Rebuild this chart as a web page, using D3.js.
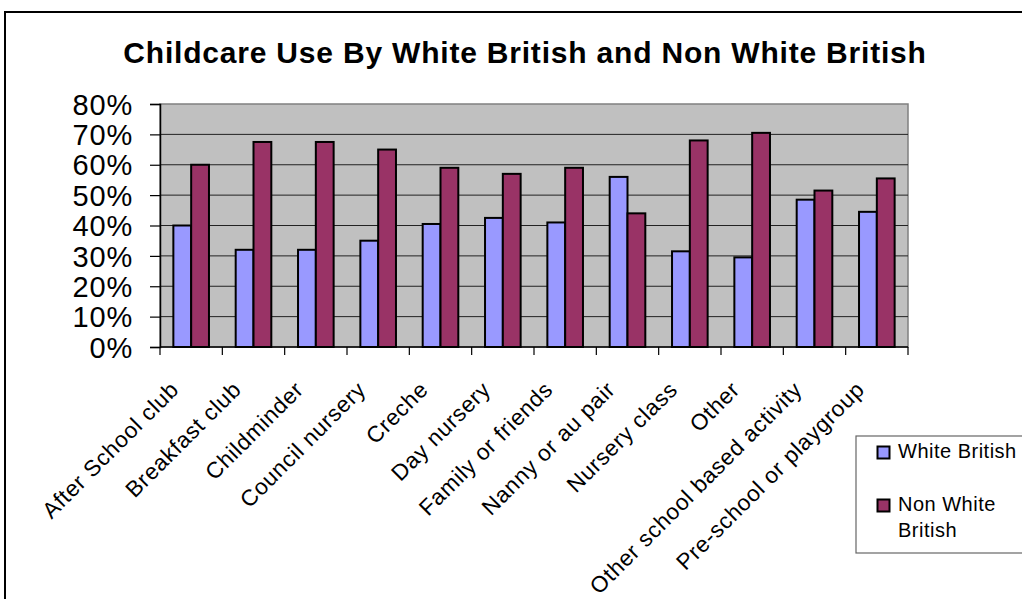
<!DOCTYPE html>
<html>
<head>
<meta charset="utf-8">
<script src="https://cdn.jsdelivr.net/npm/d3@7"></script>
<style>
  html, body { margin: 0; padding: 0; background: #fff; }
  svg { display: block; font-family: Arial, "Liberation Sans", sans-serif; }
</style>
</head>
<body>
<svg id="chart" width="1022" height="599"></svg>
<script>
// Share of each childcare type used by White British and Non White British families
const categories = [
  "After School club", "Breakfast club", "Childminder", "Council nursery",
  "Creche", "Day nursery", "Family or friends", "Nanny or au pair",
  "Nursery class", "Other", "Other school based activity", "Pre-school or  playgroup"
];
const seriesNames = ["White British", "Non White British"];
const whiteBritish = [40, 32, 32, 35, 40.5, 42.5, 41, 56, 31.5, 29.5, 48.5, 44.5];
const nonWhiteBritish = [60, 67.5, 67.5, 65, 59, 57, 59, 44, 68, 70.5, 51.5, 55.5];
const yTicks = [0, 10, 20, 30, 40, 50, 60, 70, 80];

const colors = { "White British": "#9999FF", "Non White British": "#993366" };

const svg = d3.select("#chart");
const plot = { left: 160, right: 908, top: 104, bottom: 347 };

// Outer chart frame
svg.append("rect")
  .attr("x", 5).attr("y", 12).attr("width", 1040).attr("height", 620)
  .attr("fill", "#fff").attr("stroke", "#000").attr("stroke-width", 2);

// Title
svg.append("text")
  .attr("x", 525).attr("y", 63)
  .attr("text-anchor", "middle")
  .attr("font-size", 30).attr("font-weight", "bold")
  .attr("letter-spacing", 0.8)
  .text("Childcare Use By White British and Non White British");

const x = d3.scaleBand().domain(categories).range([plot.left, plot.right]).padding(0);
const xInner = d3.scaleBand().domain(seriesNames).range([0, x.bandwidth()])
  .paddingInner(0).paddingOuter(0.75);
const y = d3.scaleLinear().domain([0, 80]).range([plot.bottom, plot.top]);

// Plot background
svg.append("rect")
  .attr("x", plot.left).attr("y", plot.top)
  .attr("width", plot.right - plot.left).attr("height", plot.bottom - plot.top)
  .attr("fill", "#C0C0C0").attr("stroke", "#808080").attr("stroke-width", 1.5);

// Horizontal gridlines
svg.append("g")
  .selectAll("line")
  .data(yTicks.filter(t => t > 0 && t < 80))
  .join("line")
  .attr("x1", plot.left).attr("x2", plot.right)
  .attr("y1", d => y(d)).attr("y2", d => y(d))
  .attr("stroke", "#222").attr("stroke-width", 1);

// Bars
const rows = categories.map((c, i) => ({
  category: c,
  values: [
    { series: seriesNames[0], value: whiteBritish[i] },
    { series: seriesNames[1], value: nonWhiteBritish[i] }
  ]
}));

svg.append("g")
  .selectAll("g")
  .data(rows)
  .join("g")
  .attr("transform", d => `translate(${x(d.category)},0)`)
  .selectAll("rect")
  .data(d => d.values)
  .join("rect")
  .attr("x", d => xInner(d.series))
  .attr("y", d => y(d.value))
  .attr("width", xInner.bandwidth())
  .attr("height", d => y(0) - y(d.value))
  .attr("fill", d => colors[d.series])
  .attr("stroke", "#000").attr("stroke-width", 2);

// Y axis
const yAxis = svg.append("g")
  .attr("transform", `translate(${plot.left},0)`)
  .call(d3.axisLeft(y).tickValues(yTicks).tickSize(10).tickFormat(d => d + "%"));
yAxis.select(".domain").attr("stroke", "#000").attr("stroke-width", 1.5);
yAxis.selectAll(".tick line").attr("stroke", "#000").attr("stroke-width", 1.2);
yAxis.selectAll(".tick text")
  .attr("x", -27).attr("dy", "0.35em")
  .attr("font-size", 29).attr("letter-spacing", 0.8)
  .attr("fill", "#000")
  .attr("font-family", "Arial, 'Liberation Sans', sans-serif");

// X axis line and category-boundary ticks
svg.append("line")
  .attr("x1", plot.left).attr("x2", plot.right)
  .attr("y1", plot.bottom).attr("y2", plot.bottom)
  .attr("stroke", "#000").attr("stroke-width", 1.5);
const boundaries = categories.map(c => x(c)).concat([plot.right]);
svg.append("g")
  .selectAll("line")
  .data(boundaries)
  .join("line")
  .attr("x1", d => d).attr("x2", d => d)
  .attr("y1", plot.bottom).attr("y2", plot.bottom + 8)
  .attr("stroke", "#000").attr("stroke-width", 1.2);

// Rotated category labels
svg.append("g")
  .selectAll("text")
  .data(categories)
  .join("text")
  .attr("text-anchor", "end")
  .attr("font-size", 22.5).attr("letter-spacing", 0.7)
  .attr("transform", d => `translate(${x(d) + x.bandwidth() / 2 - 11},${plot.bottom + 44}) rotate(-45)`)
  .text(d => d);

// Legend
const legend = svg.append("g").attr("transform", "translate(856,436)");
legend.append("rect")
  .attr("width", 200).attr("height", 117)
  .attr("fill", "#fff").attr("stroke", "#666").attr("stroke-width", 1.2);
const legendItems = [
  { name: seriesNames[0], lines: ["White British"], y: 10 },
  { name: seriesNames[1], lines: ["Non White", "British"], y: 63 }
];
const li = legend.selectAll("g.item").data(legendItems).join("g").attr("class", "item")
  .attr("transform", d => `translate(0,${d.y})`);
li.append("rect")
  .attr("x", 21.5).attr("y", 0.5).attr("width", 12).attr("height", 12)
  .attr("fill", d => colors[d.name]).attr("stroke", "#000").attr("stroke-width", 2);
li.append("text")
  .attr("font-size", 20).attr("letter-spacing", 0.5)
  .selectAll("tspan")
  .data(d => d.lines)
  .join("tspan")
  .attr("x", 42).attr("y", (d, i) => 12 + i * 26)
  .text(d => d);
</script>
</body>
</html>
